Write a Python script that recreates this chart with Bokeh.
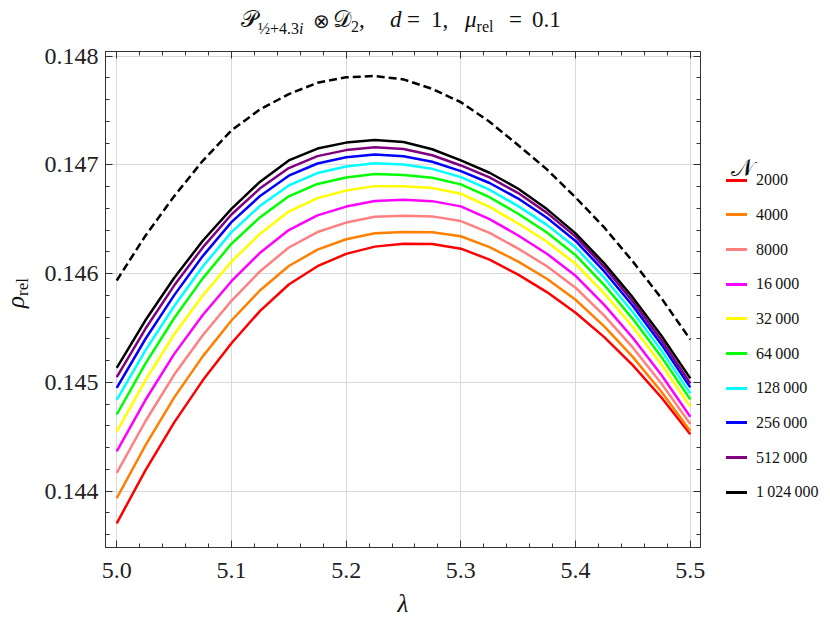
from bokeh.plotting import figure
from bokeh.layouts import column, row
from bokeh.models import (Range1d, LinearAxis, Div,
                          SingleIntervalTicker, NumeralTickFormatter, CustomJSTickFormatter)
from bokeh.embed import file_html
from bokeh.resources import INLINE

# ---------------- data ----------------
lam = [5.000, 5.025, 5.050, 5.075, 5.100, 5.125, 5.150, 5.175, 5.200, 5.225, 5.250,
       5.275, 5.300, 5.325, 5.350, 5.375, 5.400, 5.425, 5.450, 5.475, 5.500]

n_labels = ["2000", "4000", "8000", "16\u2009000", "32\u2009000", "64\u2009000",
            "128\u2009000", "256\u2009000", "512\u2009000", "1\u2009024\u2009000"]
colors = ["#ff0000", "#ff8000", "#ff8080", "#ff00ff", "#ffff00", "#00ff00",
          "#00ffff", "#0000ff", "#800080", "#000000"]

rho_2000    = [0.143705, 0.144192, 0.14463, 0.145019, 0.14536, 0.145658, 0.1459, 0.146068, 0.146181, 0.146248, 0.146275,
               0.146273, 0.146229, 0.146129, 0.14599, 0.14583, 0.14564, 0.145416, 0.145157, 0.144859, 0.144523]
rho_4000    = [0.143935, 0.144422, 0.14486, 0.145239, 0.145569, 0.145847, 0.14607, 0.14622, 0.146316, 0.14637, 0.146382,
               0.146381, 0.146343, 0.146244, 0.14611, 0.145953, 0.14576, 0.145515, 0.145232, 0.144912, 0.144553]
rho_8000    = [0.144168, 0.144643, 0.14507, 0.145434, 0.14575, 0.146022, 0.14624, 0.146382, 0.146469, 0.146522, 0.146532,
               0.146526, 0.146483, 0.146374, 0.14623, 0.146068, 0.14587, 0.145614, 0.145319, 0.144987, 0.144617]
rho_16000   = [0.144367, 0.144838, 0.14526, 0.145619, 0.14593, 0.146192, 0.1464, 0.146535, 0.146616, 0.146668, 0.146678,
               0.146666, 0.146618, 0.146501, 0.14635, 0.146183, 0.14598, 0.145713, 0.145408, 0.145066, 0.144685]
rho_32000   = [0.144548, 0.145018, 0.14544, 0.145799, 0.14611, 0.146367, 0.14657, 0.146694, 0.146764, 0.146804, 0.146802,
               0.146786, 0.146734, 0.146614, 0.14646, 0.146293, 0.14609, 0.145819, 0.145509, 0.145162, 0.144777]
rho_64000   = [0.144705, 0.145172, 0.14559, 0.145956, 0.146274, 0.146519, 0.14671, 0.146824, 0.146884, 0.146916, 0.146906,
               0.146881, 0.14682, 0.146702, 0.14655, 0.146378, 0.14617, 0.145895, 0.145582, 0.145232, 0.144844]
rho_128000  = [0.144839, 0.145294, 0.1457, 0.146065, 0.146381, 0.146623, 0.14681, 0.146924, 0.146984, 0.147014, 0.147002,
               0.146963, 0.146887, 0.146771, 0.14662, 0.146448, 0.14624, 0.145962, 0.145645, 0.145291, 0.144899]
rho_256000  = [0.14495, 0.145399, 0.1458, 0.146161, 0.146473, 0.146714, 0.1469, 0.147012, 0.14707, 0.147095, 0.147078,
               0.147028, 0.146942, 0.146833, 0.14669, 0.146513, 0.1463, 0.14602, 0.145702, 0.145347, 0.144954]
rho_512000  = [0.145048, 0.145493, 0.14589, 0.146241, 0.146543, 0.146784, 0.14697, 0.14708, 0.147135, 0.147162, 0.147146,
               0.147088, 0.146994, 0.146884, 0.14674, 0.146558, 0.14634, 0.14606, 0.145741, 0.145385, 0.144991]
rho_1024000 = [0.145134, 0.145571, 0.14596, 0.146302, 0.146595, 0.146845, 0.14704, 0.147149, 0.147204, 0.147228, 0.14721,
               0.147143, 0.14704, 0.146927, 0.14678, 0.146593, 0.14637, 0.146094, 0.145779, 0.145427, 0.145037]
rho_limit   = [0.145937, 0.146348, 0.14671, 0.147037, 0.147316, 0.14751, 0.14765, 0.147754, 0.147804, 0.147816, 0.147785,
               0.147698, 0.147575, 0.147395, 0.14718, 0.146958, 0.1467, 0.146424, 0.14611, 0.145771, 0.145394]

series = [rho_2000, rho_4000, rho_8000, rho_16000, rho_32000, rho_64000,
          rho_128000, rho_256000, rho_512000, rho_1024000]

# ---------------- layout constants (page pixels) ----------------
SERIF = "Liberation Serif"
CSS_SERIF = "'Liberation Serif',serif"
TITLE_H = 36
YLAB_W = 30
FRAME_X0, FRAME_Y0 = 105, 51
FRAME_W, FRAME_H = 595, 496
BORDER_R = 6
BORDER_B = 76
PLOT_H = (FRAME_Y0 - TITLE_H) + FRAME_H + BORDER_B

p = figure(frame_width=FRAME_W, frame_height=FRAME_H,
           min_border_left=FRAME_X0 - YLAB_W, min_border_right=BORDER_R,
           min_border_top=FRAME_Y0 - TITLE_H, min_border_bottom=BORDER_B,
           x_range=Range1d(4.9902, 5.5089), y_range=Range1d(0.1434826, 0.1480414),
           output_backend="svg", toolbar_location=None, title=None,
           x_axis_location=None, y_axis_location=None)
p.background_fill_color = "white"
p.border_fill_color = "white"
p.outline_line_color = "#333333"

xt = SingleIntervalTicker(interval=0.1, num_minor_ticks=5)
yt = SingleIntervalTicker(interval=0.001, num_minor_ticks=5)


def style_axis(ax, labels):
    ax.axis_line_color = "#333333"
    ax.major_tick_line_color = "#333333"
    ax.minor_tick_line_color = "#333333"
    ax.major_tick_in = 7
    ax.major_tick_out = 0
    ax.minor_tick_in = 4
    ax.minor_tick_out = 0
    if labels:
        ax.major_label_text_font = SERIF
        ax.major_label_text_font_size = "24px"
        ax.major_label_text_color = "#222222"
    else:
        ax.formatter = CustomJSTickFormatter(code="return ''")
        ax.major_label_text_font_size = "0px"
        ax.major_label_standoff = 0


bx = LinearAxis(ticker=xt, formatter=NumeralTickFormatter(format="0.0"))
style_axis(bx, True)
bx.major_label_standoff = 15
bx.axis_label = "\u03bb"
bx.axis_label_text_font = SERIF
bx.axis_label_text_font_style = "italic"
bx.axis_label_text_font_size = "25px"
bx.axis_label_text_color = "#111111"
bx.axis_label_standoff = 9

ly = LinearAxis(ticker=yt, formatter=NumeralTickFormatter(format="0.000"))
style_axis(ly, True)
ly.major_label_standoff = 7

tx = LinearAxis(ticker=xt)
style_axis(tx, False)
ry = LinearAxis(ticker=yt)
style_axis(ry, False)
p.add_layout(bx, "below")
p.add_layout(ly, "left")
p.add_layout(tx, "above")
p.add_layout(ry, "right")

p.xgrid.ticker = xt
p.ygrid.ticker = yt
p.xgrid.grid_line_color = "#d9d9d9"
p.ygrid.grid_line_color = "#d9d9d9"

# ---------------- lines ----------------
p.line(lam, rho_limit, line_color="black", line_width=2.5, line_dash="8 4")
for col, vals in zip(colors, series):
    p.line(lam, vals, line_color=col, line_width=2.5, line_join="round")


# ---------------- HTML texts ----------------
def group(inner, x, baseline, size):
    top = baseline - 0.84 * size
    return (f"<span style=\"position:absolute;left:{x}px;top:{top:.1f}px;font-size:{size}px;"
            f"line-height:1;white-space:nowrap\">{inner}</span>")


def sub(t, size, drop=6):
    return f"<span style=\"font-size:{size}px;position:relative;top:{drop}px\">{t}</span>"


M, S = 23, 16
title_parts = [
    group("\U0001D4AB" + sub("\u00bd+4.3<i>i</i>", S, 7), 241, 27, M),
    group("\u2297", 313, 28, M - 3),
    group("\U0001D49F" + sub("2", S, 5) + ",", 333, 27, M),
    group("<i>d</i>", 390, 27, M),
    group("=", 407, 27, M),
    group("1,", 431, 27, M),
    group("<i>\u03bc</i>" + sub("rel", S, 5), 465, 27, M),
    group("=", 509, 27, M),
    group("0.1", 532, 27, M),
]
title_html = (f"<div style=\"position:relative;width:{830 - 16}px;height:{TITLE_H}px;"
              f"font-family:{CSS_SERIF};color:#111111\">" + "".join(title_parts) + "</div>")
title_div = Div(text=title_html, width=830 - 16, height=TITLE_H, margin=0)

# rotated y label: text starts at bottom (page y 308) and reads upwards
ylab_html = (
    f"<div style=\"position:relative;width:{YLAB_W}px;height:{PLOT_H}px;font-family:{CSS_SERIF};color:#111111\">"
    f"<span style=\"position:absolute;left:3px;top:{308 - TITLE_H}px;transform-origin:0 0;"
    "transform:rotate(-90deg);white-space:nowrap;line-height:1;font-size:25px\">"
    "<i>\u03c1</i>" + sub("rel", 17, 4) + "</span></div>"
)
ylab_div = Div(text=ylab_html, width=YLAB_W, height=PLOT_H, margin=0)

# legend (page x of the legend column starts after the plot's right border)
LEG_X0 = FRAME_X0 + FRAME_W + BORDER_R
LEG_W = 118
leg_parts = [group("\U0001D4A9", 731 - LEG_X0, 176 - TITLE_H, 24)]
for k, (lab, col) in enumerate(zip(n_labels, colors)):
    cy = 180 + k * 34.7 - TITLE_H
    leg_parts.append(
        f"<span style=\"position:absolute;left:{726 - LEG_X0}px;top:{cy - 1.5:.1f}px;width:21px;"
        f"height:3px;background:{col}\"></span>")
    leg_parts.append(group(lab, 756 - LEG_X0, cy + 5.5, 16))
leg_html = (f"<div style=\"position:relative;width:{LEG_W}px;height:{PLOT_H}px;"
            f"font-family:{CSS_SERIF};color:#111111\">" + "".join(leg_parts) + "</div>")
leg_div = Div(text=leg_html, width=LEG_W, height=PLOT_H, margin=0)

layout = column(title_div, row(ylab_div, p, leg_div, spacing=0), spacing=0)

open("out.html", "w").write(file_html(layout, INLINE))
